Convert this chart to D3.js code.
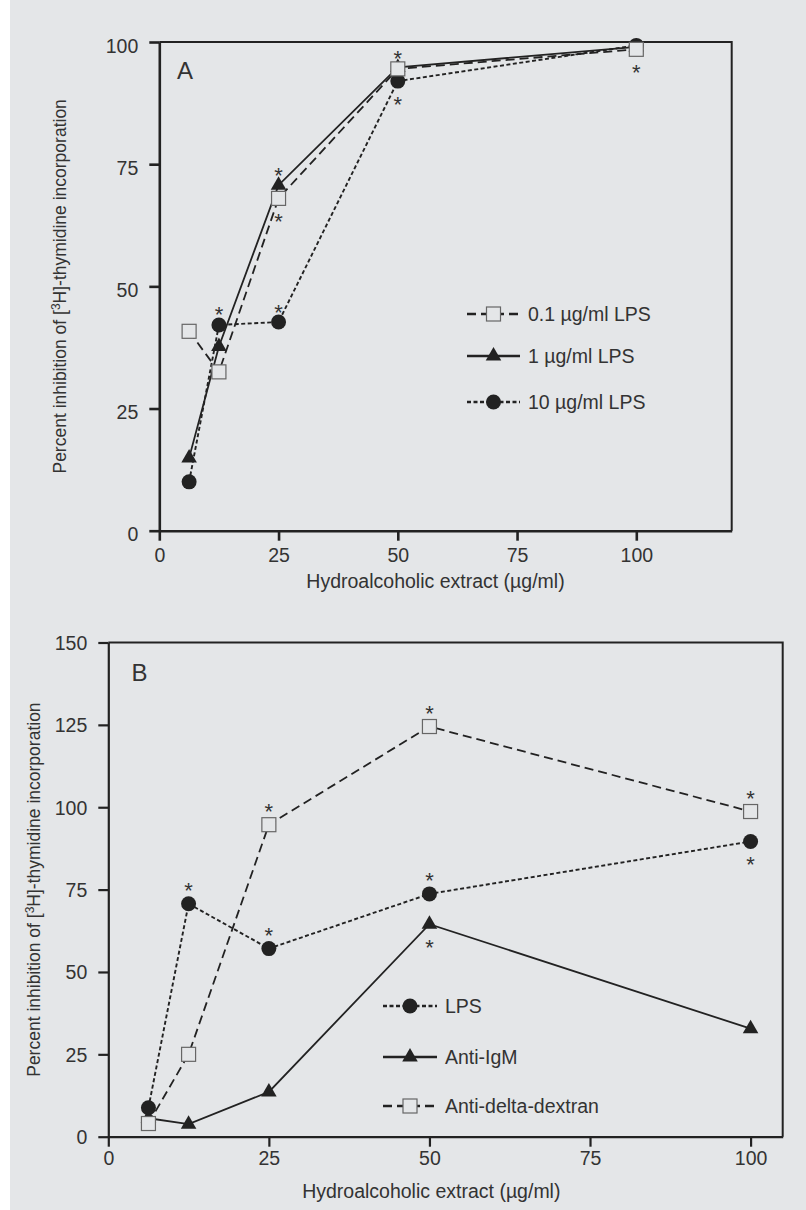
<!DOCTYPE html>
<html>
<head>
<meta charset="utf-8">
<script src="https://cdn.jsdelivr.net/npm/d3@7"></script>
<style>
  body { margin: 0; background: #fff; }
  text { font-family: "Liberation Sans", Arial, sans-serif; fill: #333; }
</style>
</head>
<body>
<svg class="root"></svg>
<script>
// extract concentrations (µg/ml)
var doses = [6.25, 12.5, 25, 50, 100];

// panel A - percent inhibition under 3 LPS concentrations
var lps01 = [40.8, 32.5, 68, 94.5, 98.5];
var lps1 = [14.9, 37.7, 70.7, 94.8, 99];
var lps10 = [10, 42.1, 42.7, 92, 99.3];
// significance stars: 1 = above the point, -1 = below, 0 = none
var lps01Stars = [0, 0, -1, 1, -1];
var lps1Stars = [0, 0, 1, 0, 0];
var lps10Stars = [0, 1, 1, -1, 0];

// panel B - different mitogens
var lpsB = [8.8, 70.7, 57.1, 73.7, 89.6];
var antiIgM = [5.6, 3.8, 13.6, 64.5, 32.8];
var antiDex = [4, 25, 94.7, 124.5, 98.7];
var lpsBStars = [0, 1, 1, 1, -1];
var antiIgMStars = [0, 0, 0, -1, 0];
var antiDexStars = [0, 0, 1, 1, 1];

var ticksA = [0, 25, 50, 75, 100];
var ticksAx = [0, 25, 50, 75, 100];
var ticksB = [0, 25, 50, 75, 100, 125, 150];
var ticksBx = [0, 25, 50, 75, 100];

var labelsA = ["0.1 µg/ml LPS", "1 µg/ml LPS", "10 µg/ml LPS"];
var labelsB = ["LPS", "Anti-IgM", "Anti-delta-dextran"];

var bg = "#e4e6e8",
    ink = "#222";

var svg = d3.select(".root")
    .attr("width", 806)
    .attr("height", 1210);

svg.append("rect")
    .attr("x", 10)
    .attr("y", 0)
    .attr("width", 796)
    .attr("height", 1210)
    .style("fill", bg);

var styles = {
  square: { dash: "9,5", width: 1.8 },
  triangle: { dash: null, width: 1.8 },
  circle: { dash: "4,2.5", width: 1.9 }
};

function marker(g, shape, x, y) {
  if (shape == "circle") {
    g.append("circle")
        .attr("cx", x).attr("cy", y).attr("r", 7.5)
        .style("fill", ink);
  } else if (shape == "triangle") {
    g.append("path")
        .attr("d", d3.symbol().type(d3.symbolTriangle).size(105)())
        .attr("transform", "translate(" + x + "," + y + ")")
        .style("fill", ink);
  } else {
    g.append("rect")
        .attr("x", x - 7).attr("y", y - 7)
        .attr("width", 14).attr("height", 14)
        .style("fill", bg)
        .style("stroke", "#666")
        .style("stroke-width", 1.2);
  }
}

function panel(cfg) {
  var x = d3.scaleLinear().domain(cfg.xDomain).range([cfg.left, cfg.right]);
  var y = d3.scaleLinear().domain(cfg.yDomain).range([cfg.bottom, cfg.top]);
  var g = svg.append("g");

  // frame top + right
  g.append("path")
      .attr("d", "M" + cfg.left + "," + cfg.top + "H" + cfg.right + "V" + cfg.bottom)
      .style("fill", "none")
      .style("stroke", ink)
      .style("stroke-width", 2);

  var yAxis = g.append("g")
      .attr("transform", "translate(" + cfg.left + ",0)")
      .call(d3.axisLeft(y).tickValues(cfg.yTicks).tickSize(10).tickSizeOuter(0).tickPadding(11));
  yAxis.selectAll("text").attr("dy", null).attr("y", cfg.yTickDy);

  var xAxis = g.append("g")
      .attr("transform", "translate(0," + cfg.bottom + ")")
      .call(d3.axisBottom(x).tickValues(cfg.xTicks).tickSize(10).tickSizeOuter(0).tickPadding(0));
  xAxis.selectAll("text").attr("dy", null).attr("y", cfg.xTickDy);

  g.selectAll(".domain, .tick line")
      .style("stroke", ink)
      .style("stroke-width", cfg.axisWidth);
  g.selectAll(".tick text")
      .style("font-size", "19.5px")
      .style("fill", "#333")
      .style("font-family", "'Liberation Sans', Arial, sans-serif");

  g.append("text")
      .attr("x", cfg.panelX)
      .attr("y", cfg.panelY)
      .style("font-size", "24px")
      .text(cfg.name);

  // axis titles
  g.append("text")
      .attr("x", cfg.xLabelX)
      .attr("y", cfg.xLabelY)
      .attr("text-anchor", "middle")
      .style("font-size", "19.5px")
      .text("Hydroalcoholic extract (µg/ml)");

  var yl = g.append("text")
      .attr("text-anchor", "middle")
      .attr("transform", "translate(" + cfg.yLabelX + "," + ((cfg.top + cfg.bottom) / 2) + ")rotate(-90)")
      .style("font-size", "17.5px");
  yl.append("tspan").text("Percent inhibition of [");
  yl.append("tspan").attr("dy", -6).style("font-size", "12px").text("3");
  yl.append("tspan").attr("dy", 6).text("H]-thymidine incorporation");

  var line = d3.line()
      .x(function(d) { return x(d[0]); })
      .y(function(d) { return y(d[1]); });

  cfg.series.forEach(function(s) {
    var pts = doses.map(function(d, i) { return [d, s.values[i]]; });
    var st = styles[s.shape];
    g.append("path")
        .datum(pts)
        .attr("d", line)
        .style("fill", "none")
        .style("stroke", ink)
        .style("stroke-width", st.width)
        .style("stroke-dasharray", st.dash);
  });

  cfg.series.forEach(function(s) {
    doses.forEach(function(d, i) {
      marker(g, s.shape, x(d), y(s.values[i]));
      if (s.stars[i] != 0) {
        g.append("text")
            .attr("x", x(d))
            .attr("y", y(s.values[i]) + (s.stars[i] > 0 ? cfg.starUp : cfg.starDown) + 12.5)
            .attr("text-anchor", "middle")
            .style("font-size", "22px")
            .text("*");
      }
    });
  });

  // legend
  cfg.legendLabels.forEach(function(lab, i) {
    var s = cfg.legendSeries[i];
    var st = styles[s.shape];
    var ly = cfg.legendY[i];
    g.append("line")
        .attr("x1", cfg.legendX0).attr("x2", cfg.legendX1)
        .attr("y1", ly).attr("y2", ly)
        .style("stroke", ink)
        .style("stroke-width", 2.4)
        .style("stroke-dasharray", st.dash);
    marker(g, s.shape, (cfg.legendX0 + cfg.legendX1) / 2, ly);
    g.append("text")
        .attr("x", cfg.legendX1 + 8)
        .attr("y", ly + 7)
        .style("font-size", "19.5px")
        .text(lab);
  });
}

var sA01 = { values: lps01, stars: lps01Stars, shape: "square" },
    sA1 = { values: lps1, stars: lps1Stars, shape: "triangle" },
    sA10 = { values: lps10, stars: lps10Stars, shape: "circle" };

panel({
  name: "A",
  xDomain: [0, 120], yDomain: [0, 100],
  left: 159.3, right: 731.7, top: 42, bottom: 530.7,
  xTicks: ticksAx, yTicks: ticksA,
  yTickDy: 10, xTickDy: 31,
  axisWidth: 2.6,
  panelX: 177, panelY: 79,
  xLabelX: 435.5, xLabelY: 588,
  yLabelX: 66,
  starUp: -15, starDown: 18,
  series: [sA10, sA1, sA01],
  legendSeries: [sA01, sA1, sA10],
  legendLabels: labelsA,
  legendX0: 467, legendX1: 520,
  legendY: [314, 356, 402]
});

var sBl = { values: lpsB, stars: lpsBStars, shape: "circle" },
    sBi = { values: antiIgM, stars: antiIgMStars, shape: "triangle" },
    sBd = { values: antiDex, stars: antiDexStars, shape: "square" };

panel({
  name: "B",
  xDomain: [0, 105], yDomain: [0, 150],
  left: 108.3, right: 782.7, top: 642.5, bottom: 1136.7,
  xTicks: ticksBx, yTicks: ticksB,
  yTickDy: 7, xTickDy: 28,
  axisWidth: 2.2,
  panelX: 131.5, panelY: 681,
  xLabelX: 431.3, xLabelY: 1198,
  yLabelX: 40,
  starUp: -18, starDown: 18,
  series: [sBi, sBl, sBd],
  legendSeries: [sBl, sBi, sBd],
  legendLabels: labelsB,
  legendX0: 383, legendX1: 437,
  legendY: [1006, 1057, 1106]
});
</script>
</body>
</html>
